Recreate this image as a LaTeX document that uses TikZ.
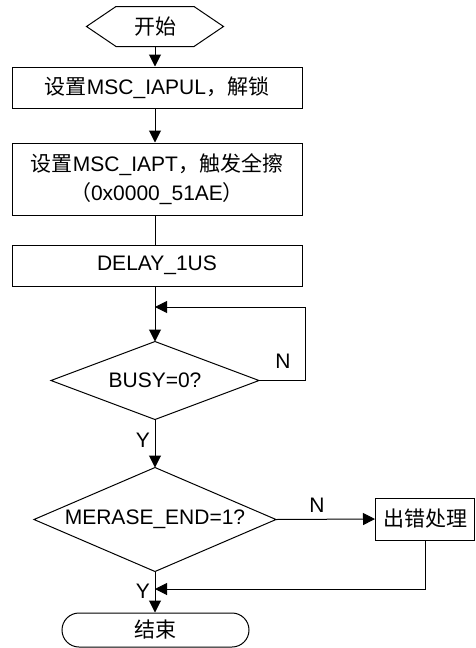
\documentclass[tikz,border=0pt]{standalone}
\usepackage{fontspec}
\setmainfont{Liberation Sans}
\newfontfamily\cjk{Noto Sans CJK SC}
\usetikzlibrary{arrows.meta}
\begin{document}
\begin{tikzpicture}[x=1pt,y=-1pt,line width=1pt,
  every node/.style={font=\fontsize{21}{29}\selectfont,inner sep=0pt},
  box/.style={draw,rectangle,align=center},
  dec/.style={rectangle},
  term/.style={draw,rectangle,rounded corners=17pt},
  arr/.style={-{Triangle[length=12pt,width=12pt]}}]
\useasboundingbox (0,0) rectangle (475,648);
% start
\node (start) [minimum width=136pt,minimum height=39pt] at (155,26.5) {\cjk 开始};
\draw (start.west) -- ([xshift=-39pt]start.north) -- ([xshift=39pt]start.north) -- (start.east)
  -- ([xshift=39pt]start.south) -- ([xshift=-39pt]start.south) -- cycle;
% boxes
\node[box,minimum width=290pt,minimum height=41pt] (b1) at (157,87.5) {{\cjk 设置}MSC\_IAPUL{\cjk ，解锁}};
\node[box,minimum width=290pt,minimum height=72pt] (b2) at (157,179) {{\cjk 设置}MSC\_IAPT{\cjk ，触发全擦}\\{\cjk （}0x0000\_51AE{\cjk ）}};
\node[box,minimum width=290pt,minimum height=41pt] (b3) at (157,265.5) {DELAY\_1US};
\node[dec,minimum width=207pt,minimum height=77pt] (busy) at (155,380.5) {BUSY=0?};
\draw (busy.west) -- (busy.north) -- (busy.east) -- (busy.south) -- cycle;
\node[dec,minimum width=241pt,minimum height=103pt] (merase) at (155,519.5) {MERASE\_END=1?};
\draw (merase.west) -- (merase.north) -- (merase.east) -- (merase.south) -- cycle;
\node[box,minimum width=99pt,minimum height=42pt] (err) at (425,519) {\cjk 出错处理};
\node[term,minimum width=187pt,minimum height=34pt] (end) at (155.5,630) {\cjk 结束};
% connectors
\draw[arr] (start.south) -- (start.south |- b1.north);
\draw[arr] (start.south |- b1.south) -- (start.south |- b2.north);
\draw (start.south |- b2.south) -- (start.south |- b3.north);
\draw[arr] (start.south |- b3.south) -- (busy.north);
\coordinate (loop) at (305,307);
\draw[arr] (busy.east) -| (loop) -- (loop -| busy.north);
\node (n1) at (283,361) {N};
\draw[arr] (busy.south) -- (merase.north);
\node (y1) at (143,440) {Y};
\draw[arr] (merase.east) -- (err.west);
\node (n2) at (317,505) {N};
\draw[arr] (merase.south) -- (merase.south |- end.north);
\coordinate (join) at (155,589);
\draw[arr] (err.south) |- (join);
\node (y2) at (143,591) {Y};
\end{tikzpicture}
\end{document}
